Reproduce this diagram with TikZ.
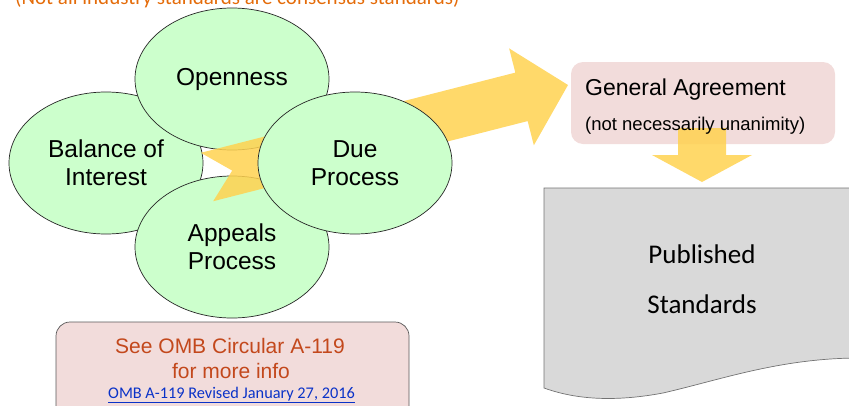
\documentclass[tikz,border=0pt]{standalone}
\usepackage{fontspec}
\setmainfont{Liberation Sans}
\newfontfamily\calibri{Carlito}
\usetikzlibrary{calc,positioning,shapes.geometric}
\definecolor{mint}{RGB}{204,255,204}
\definecolor{arrowyellow}{RGB}{255,210,80}
\definecolor{pinkbox}{RGB}{242,220,219}
\definecolor{docgray}{RGB}{217,217,217}
\definecolor{titleorange}{RGB}{228,108,10}
\definecolor{infored}{RGB}{195,72,28}
\definecolor{linkblue}{RGB}{10,50,200}
\tikzset{>=latex}
\tikzset{
  bubble/.style={draw=black!85, line width=0.7pt, ellipse, fill=mint, minimum width=194pt, minimum height=142pt, inner sep=0pt, align=center, font=\fontsize{24.5}{28}\selectfont},
  blockarrow/.style={fill=arrowyellow, fill opacity=0.85},
  doctext/.style={anchor=base, font=\calibri\fontsize{27}{32}\selectfont}
}
\begin{document}
\begin{tikzpicture}[x=1pt,y=-1pt]
      \useasboundingbox (0,0) rectangle (849,405);
      \clip (0,0) rectangle (849,405);
      \node[anchor=base west, text=titleorange, font=\calibri\fontsize{21}{25}\selectfont, inner sep=0pt] (n0) at (15,4) {(Not all industry standards are consensus standards)};
      \node[bubble] (n1) at (106,163) {Balance of\\Interest};
      \node[bubble] (n2) at (232,79) {Openness};
      \node[bubble] (n3) at (232,247) {Appeals\\Process};
      \coordinate (a0) at (207,177);
      \coordinate (a1) at (568,85);
      \coordinate (ab) at ($(a1)!48pt!(a0)$);
      \fill[blockarrow] ($(a0)!25pt!90:(a1)$) -- ($(ab)!25pt!90:(a1)$) -- ($(ab)!50pt!90:(a1)$) -- (a1) -- ($(ab)!50pt!-90:(a1)$) -- ($(ab)!25pt!-90:(a1)$) -- ($(a0)!25pt!-90:(a1)$) -- ($(a0)!26pt!(a1)$) -- cycle;
      \node[bubble] (n4) at (355,163) {Due\\Process};
      \node[fill=pinkbox, rounded corners=12pt, minimum width=264pt, minimum height=82pt] (n5) at (703,103) {};
      \coordinate (d0) at (702,128);
      \coordinate (d1) at (702,182);
      \coordinate (db) at ($(d1)!27pt!(d0)$);
      \fill[blockarrow] ($(d0)!24pt!90:(d1)$) -- ($(db)!24pt!90:(d1)$) -- ($(db)!50pt!90:(d1)$) -- (d1) -- ($(db)!50pt!-90:(d1)$) -- ($(db)!24pt!-90:(d1)$) -- ($(d0)!24pt!-90:(d1)$) -- cycle;
      \node[anchor=base west, font=\fontsize{23}{27}\selectfont, inner sep=0pt] (n6) at (585,95) {General Agreement};
      \node[anchor=base west, font=\fontsize{18.5}{22}\selectfont, inner sep=0pt] (n7) at (585,130) {(not necessarily unanimity)};
      \filldraw[fill=docgray, draw=black!55, line width=0.7pt] (544,188) -- (544,388) .. controls (580,401) and (620,401) .. (663,393) .. controls (720,380) and (780,358) .. (860,358) -- (860,188) -- cycle;
      \node[doctext] (n8) at (702,263) {Published};
      \node[doctext] (n9) at ([yshift=-50pt]n8.base) {Standards};
      \node[draw=black!65, line width=0.7pt, fill=pinkbox, rounded corners=14pt, minimum width=353pt, minimum height=100pt] (n10) at (232.5,372) {};
      \node[anchor=base, text=infored, font=\fontsize{21}{25}\selectfont, inner sep=0pt] (n11) at (230,353) {See OMB Circular A-119};
      \node[anchor=base, text=infored, font=\fontsize{21}{25}\selectfont, inner sep=0pt] (n12) at (231,378) {for more info};
      \node[anchor=base, text=linkblue, font=\calibri\fontsize{16.3}{19}\selectfont, inner sep=0pt] (n13) at (231.5,398) {\underline{OMB A-119 Revised January 27, 2016}};
    \end{tikzpicture}
\end{document}
